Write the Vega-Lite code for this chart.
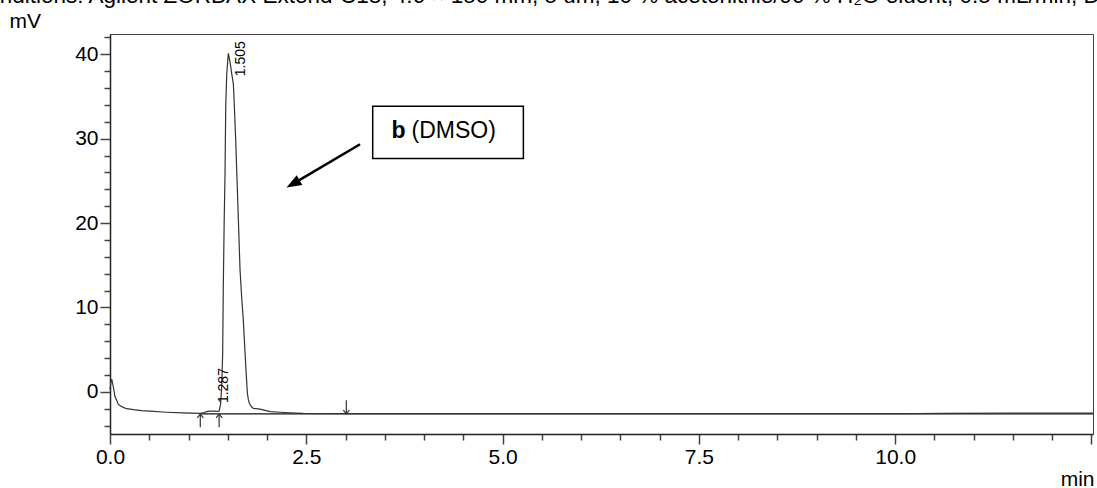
{
  "$schema": "https://vega.github.io/schema/vega-lite/v6.json",
  "width": 983,
  "height": 400,
  "autosize": {"type": "none"},
  "padding": {"left": 110, "top": 34, "right": 4, "bottom": 54},
  "background": "white",
  "config": {"font": "Liberation Sans", "view": {"stroke": "#444", "strokeWidth": 1}},
  "title": {
    "text": "Conditions: Agilent ZORBAX Extend-C18, 4.6 × 150 mm, 5 um, 10 % acetonitrile/90 % H₂O eluent, 0.5 mL/min, Detection 254 nm",
    "anchor": "start",
    "frame": "group",
    "dx": -139,
    "dy": 15,
    "offset": 0,
    "baseline": "alphabetic",
    "fontSize": 22.5,
    "fontWeight": "normal",
    "color": "#000",
    "font": "Liberation Sans"
  },
  "datasets": {
    "trace": [
      {"t": 0.0, "v": 0.3}, {"t": 0.01, "v": 1.0}, {"t": 0.022, "v": 1.5}, {"t": 0.042, "v": 0.6},
      {"t": 0.064, "v": -0.6}, {"t": 0.085, "v": -1.0}, {"t": 0.106, "v": -1.5}, {"t": 0.14, "v": -1.7},
      {"t": 0.17, "v": -1.85}, {"t": 0.21, "v": -2.0}, {"t": 0.3, "v": -2.12}, {"t": 0.4, "v": -2.22},
      {"t": 0.51, "v": -2.3}, {"t": 0.72, "v": -2.42}, {"t": 0.93, "v": -2.5}, {"t": 1.15, "v": -2.56},
      {"t": 1.2, "v": -2.45}, {"t": 1.23, "v": -2.35}, {"t": 1.27, "v": -2.3}, {"t": 1.33, "v": -2.3},
      {"t": 1.37, "v": -2.33}, {"t": 1.389, "v": -2.3}, {"t": 1.408, "v": -1.5}, {"t": 1.423, "v": 0.6},
      {"t": 1.435, "v": 4.5}, {"t": 1.443, "v": 12.4}, {"t": 1.454, "v": 20.0}, {"t": 1.465, "v": 25.8},
      {"t": 1.474, "v": 33.8}, {"t": 1.487, "v": 37.7}, {"t": 1.507, "v": 40.1}, {"t": 1.53, "v": 39.0},
      {"t": 1.55, "v": 37.7}, {"t": 1.571, "v": 36.5}, {"t": 1.584, "v": 33.8}, {"t": 1.601, "v": 29.8},
      {"t": 1.622, "v": 24.0}, {"t": 1.64, "v": 19.0}, {"t": 1.656, "v": 14.5}, {"t": 1.677, "v": 11.2},
      {"t": 1.698, "v": 8.5}, {"t": 1.715, "v": 5.5}, {"t": 1.732, "v": 2.6}, {"t": 1.75, "v": -0.2},
      {"t": 1.762, "v": -0.9}, {"t": 1.775, "v": -1.37}, {"t": 1.8, "v": -1.75}, {"t": 1.826, "v": -1.96},
      {"t": 1.91, "v": -2.05}, {"t": 2.04, "v": -2.35}, {"t": 2.17, "v": -2.42}, {"t": 2.29, "v": -2.48},
      {"t": 2.46, "v": -2.56}, {"t": 3.06, "v": -2.6}, {"t": 5.0, "v": -2.6}, {"t": 7.5, "v": -2.6},
      {"t": 10.0, "v": -2.6}, {"t": 10.6, "v": -2.55}, {"t": 11.5, "v": -2.52}, {"t": 12.52, "v": -2.52}
    ],
    "baseline": [{"t": 1.15, "v": -2.62}, {"t": 12.52, "v": -2.62}],
    "marks": [
      {"t": 1.15, "v": -2.62, "v2": -4.2, "dir": "up"},
      {"t": 1.39, "v": -2.62, "v2": -4.2, "dir": "up"},
      {"t": 3.01, "v": -2.62, "v2": -1.0, "dir": "down"}
    ],
    "peaks": [
      {"t": 1.669, "v": 37.4, "label": "1.505"},
      {"t": 1.452, "v": -1.34, "label": "1.287"}
    ],
    "box": [{"t": 3.346, "t2": 5.265, "v": 33.85, "v2": 27.65}],
    "boxtextb": [{"t": 3.586, "v": 30.87, "label": "b"}],
    "boxtext": [{"t": 3.84, "v": 30.87, "label": "(DMSO)"}],
    "arrowline": [{"t": 3.185, "v": 29.33}, {"t": 2.411, "v": 25.08}],
    "arrowhead": [{"t": 2.331, "v": 24.65}]
  },
  "encoding": {
    "x": {
      "field": "t",
      "type": "quantitative",
      "scale": {"domain": [0, 12.52], "nice": false, "zero": false},
      "axis": {
        "values": [0, 0.5, 1, 1.5, 2, 2.5, 3, 3.5, 4, 4.5, 5, 5.5, 6, 6.5, 7, 7.5, 8, 8.5, 9, 9.5, 10, 10.5, 11, 11.5, 12, 12.5],
        "labelExpr": "datum.value % 2.5 === 0 && datum.value < 12 ? format(datum.value, '.1f') : ''",
        "tickSize": {"condition": {"test": "datum.value % 2.5 === 0", "value": 10}, "value": 6},
        "labelFontSize": 21,
        "labelColor": "#000",
        "labelPadding": 2,
        "labelOverlap": false,
        "labelFlush": false,
        "title": "min",
        "titleX": 984,
        "titleY": 51,
        "titleAlign": "right",
        "titleBaseline": "alphabetic",
        "titleFontSize": 21,
        "titleFontWeight": "normal",
        "titleColor": "#000",
        "grid": false,
        "domainColor": "#222",
        "domainWidth": 1.5,
        "tickColor": "#444",
        "tickWidth": 1.5
      }
    },
    "y": {
      "field": "v",
      "type": "quantitative",
      "scale": {"domain": [-5, 42.4], "nice": false, "zero": false},
      "axis": {
        "values": [-4, -2, 0, 2, 4, 6, 8, 10, 12, 14, 16, 18, 20, 22, 24, 26, 28, 30, 32, 34, 36, 38, 40, 42],
        "labelExpr": "datum.value % 10 === 0 ? format(datum.value, 'd') : ''",
        "tickSize": {"condition": {"test": "datum.value % 10 === 0", "value": 10}, "value": 6},
        "labelFontSize": 21,
        "labelColor": "#000",
        "labelPadding": 2,
        "labelOverlap": false,
        "labelFlush": false,
        "title": "mV",
        "titleAngle": 0,
        "titleX": -101,
        "titleY": -7,
        "titleAlign": "left",
        "titleBaseline": "alphabetic",
        "titleFontSize": 21,
        "titleFontWeight": "normal",
        "titleColor": "#000",
        "grid": false,
        "domainColor": "#222",
        "domainWidth": 1.5,
        "tickColor": "#444",
        "tickWidth": 1.5
      }
    }
  },
  "layer": [
    {"data": {"name": "baseline"}, "mark": {"type": "line", "color": "#111", "strokeWidth": 1.2}},
    {"data": {"name": "trace"}, "mark": {"type": "line", "color": "#333", "strokeWidth": 1.2}},
    {"data": {"name": "marks"}, "mark": {"type": "rule", "color": "#333", "strokeWidth": 1.2}, "encoding": {"y2": {"field": "v2"}}},
    {"data": {"name": "marks"}, "mark": {"type": "point", "filled": false, "stroke": "#333", "strokeWidth": 1.2, "size": 36, "opacity": 1},
     "encoding": {"shape": {"field": "dir", "type": "nominal", "scale": {"domain": ["up", "down"], "range": ["M -1 1.3 L 0 0 L 1 1.3", "M -1 -1.3 L 0 0 L 1 -1.3"]}, "legend": null}}},
    {"data": {"name": "peaks"}, "mark": {"type": "text", "angle": 270, "align": "left", "baseline": "middle", "fontSize": 14, "color": "#000", "font": "Liberation Sans"},
     "encoding": {"text": {"field": "label"}}},
    {"data": {"name": "box"}, "mark": {"type": "rect", "fill": "white", "stroke": "#000", "strokeWidth": 1.5},
     "encoding": {"x2": {"field": "t2"}, "y2": {"field": "v2"}}},
    {"data": {"name": "boxtextb"}, "mark": {"type": "text", "align": "left", "baseline": "middle", "fontSize": 23, "fontWeight": "bold", "color": "#000", "font": "Liberation Sans"},
     "encoding": {"text": {"field": "label"}}},
    {"data": {"name": "boxtext"}, "mark": {"type": "text", "align": "left", "baseline": "middle", "fontSize": 23, "color": "#000", "font": "Liberation Sans"},
     "encoding": {"text": {"field": "label"}}},
    {"data": {"name": "arrowline"}, "mark": {"type": "line", "color": "#000", "strokeWidth": 2.5}},
    {"data": {"name": "arrowhead"}, "mark": {"type": "point", "filled": true, "color": "#000", "opacity": 1, "size": 225, "angle": 240, "shape": "M 0 -1 L -0.75 1 L 0.75 1 Z"}}
  ]
}
